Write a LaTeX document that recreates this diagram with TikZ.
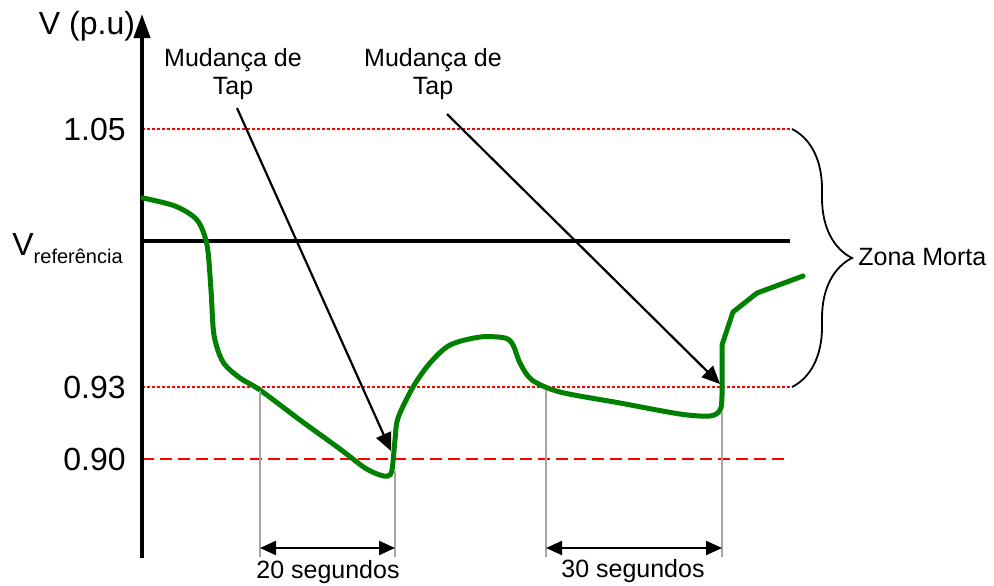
\documentclass[tikz,border=0pt]{standalone}
\usepackage{fontspec}
\setmainfont{Liberation Sans}
\usetikzlibrary{arrows.meta, decorations.pathreplacing}
\definecolor{curvegreen}{RGB}{0,128,0}
\definecolor{markgray}{RGB}{165,165,165}
\tikzstyle{limit} = [red, line width=1.3pt, dash pattern=on 1.3pt off 1.2pt]
\tikzstyle{minlimit} = [red, line width=1.1pt, dash pattern=on 6pt off 3pt]
\tikzstyle{reference} = [black, line width=1.6pt]
\tikzstyle{voltage} = [curvegreen, line width=2.5pt, line join=round, line cap=round]
\tikzstyle{marker} = [markgray, line width=0.9pt]
\tikzstyle{pointer} = [line width=1.1pt, -{Triangle[length=9pt,width=8pt]}]
\tikzstyle{span} = [line width=1.1pt, {Triangle[length=8pt,width=7pt]}-{Triangle[length=8pt,width=7pt]}]
\tikzstyle{bigtext} = [font=\fontsize{16}{19}\selectfont, inner sep=0pt]
\tikzstyle{smalltext} = [font=\fontsize{12.5}{14}\selectfont, align=center, inner sep=1pt]

\begin{document}
\begin{tikzpicture}[x=0.5pt, y=-0.5pt]
    \useasboundingbox (0,0) rectangle (994,585);

    % limits and reference
    \draw [limit] (142,129) -- (790,129);
    \draw [reference] (142,241) -- (790,241);
    \draw [limit] (142,387) -- (790,387);
    \draw [minlimit] (142,459) -- (790,459);

    % axis
    \draw [line width=2pt, -{Triangle[length=12pt,width=8pt]}] (142,558) -- (142,14);
    \node (vaxis) [bigtext] at (87,26) {V (p.u)};
    \node (vmax) [bigtext, anchor=east] at (126,129) {1.05};
    \node (vref) [bigtext, anchor=base west] at (12,255) {V\fontsize{10}{12}\selectfont\raisebox{-4pt}{referência}};
    \node (vdb) [bigtext, anchor=east] at (126,387) {0.93};
    \node (vmin) [bigtext, anchor=east] at (126,459) {0.90};

    % voltage
    \draw [voltage] plot[smooth, tension=0.5] coordinates {
        (143,198) (175,206) (197,220) (207,245) (211,290) (214,335) (223,362)
        (240,378) (260,390) (300,420) (340,449) (365,468) (380,475) (388,476)
        (392,470) (395,440) (398,418) (413,387) (430,363) (450,345) (480,337)
        (505,338) (513,345) (520,363) (532,380) (560,392) (620,403) (680,414)
        (710,416) (720,410) (722,395) (722,345)}
        -- (733,312) -- (757,293) -- (803,276);

    % time marks
    \coordinate (t1a) at (260,391);
    \coordinate (t1b) at (395,471);
    \coordinate (t2a) at (546,390);
    \coordinate (t2b) at (722,412);
    \draw [marker] (t1a) -- (260,557);
    \draw [marker] (t1b) -- (395,557);
    \draw [marker] (t2a) -- (546,557);
    \draw [marker] (t2b) -- (722,557);
    \coordinate (s1a) at (260,548);
    \coordinate (s1b) at (395,548);
    \coordinate (s2a) at (546,548);
    \coordinate (s2b) at (722,548);
    \draw [span] (s1a) -- (s1b);
    \draw [span] (s2a) -- (s2b);
    \node (sec20) [smalltext] at (328,572) {20 segundos};
    \node (sec30) [smalltext] at (633,571) {30 segundos};

    % tap changes
    \node (tap1) [smalltext] at (233,74) {Mudança de\\Tap};
    \node (tap2) [smalltext] at (433,74) {Mudança de\\Tap};
    \coordinate (hit1) at (391,451);
    \coordinate (hit2) at (720,384);
    \draw [pointer] (tap1.south) ++(4,6) -- (hit1);
    \draw [pointer] (tap2.south) ++(14,12) -- (hit2);

    % dead band
    \draw [line width=0.9pt, decorate, decoration={brace, amplitude=30pt}] (792,129) -- (792,387);
    \node (dead) [smalltext, anchor=west] at (856,257) {Zona Morta};
\end{tikzpicture}
\end{document}
